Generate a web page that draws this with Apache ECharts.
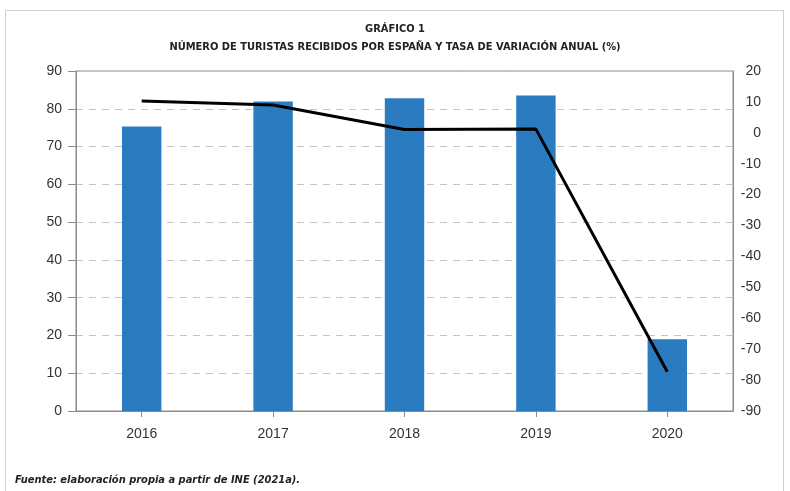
<!DOCTYPE html>
<html>
<head>
<meta charset="utf-8">
<script src="https://cdn.jsdelivr.net/npm/echarts@6/dist/echarts.min.js"></script>
<style>
  html, body { margin: 0; padding: 0; background: #fff; }
  #chart { width: 790px; height: 491px; }
</style>
</head>
<body>
<div id="chart"></div>
<script>
// Datos
const years = ['2016', '2017', '2018', '2019', '2020'];
const touristsMillions = [75.3, 81.9, 82.8, 83.5, 19.0];
const annualChangePct = [10.3, 9.0, 1.1, 1.2, -77.3];

const chart = echarts.init(document.getElementById('chart'), null, { renderer: 'canvas' });

const narrow = '"Liberation Sans Narrow", "DejaVu Sans Condensed", "Liberation Sans", sans-serif';
const labelFont = '"Liberation Sans", Arial, sans-serif';

const option = {
  backgroundColor: '#fff',
  animation: false,
  title: [
    {
      text: 'GRÁFICO 1',
      left: 'center',
      top: 19,
      textStyle: { fontFamily: narrow, fontSize: 11, fontWeight: 'bold', color: '#222' }
    },
    {
      text: 'NÚMERO DE TURISTAS RECIBIDOS POR ESPAÑA Y TASA DE VARIACIÓN ANUAL (%)',
      left: 'center',
      top: 37,
      textStyle: { fontFamily: narrow, fontSize: 11, fontWeight: 'bold', color: '#222' }
    },
    {
      text: 'Fuente: elaboración propia a partir de INE (2021a).',
      left: 10,
      top: 470,
      textStyle: { fontFamily: narrow, fontSize: 11, fontWeight: 'bold', fontStyle: 'italic', color: '#222' }
    }
  ],
  graphic: [
    {
      type: 'rect',
      shape: { x: 5.5, y: 10.5, width: 778, height: 490 },
      style: { fill: 'none', stroke: '#cfcfcf', lineWidth: 1 },
      silent: true
    }
  ],
  grid: {
    left: 76,
    right: 57,
    top: 71,
    bottom: 80,
    show: true,
    borderColor: '#8a8a8a',
    borderWidth: 1,
    containLabel: false
  },
  xAxis: {
    type: 'category',
    data: years,
    axisLine: { lineStyle: { color: '#8a8a8a', width: 1 } },
    axisTick: { show: true, alignWithLabel: true, length: 6, lineStyle: { color: '#8a8a8a' } },
    axisLabel: { margin: 16, fontFamily: labelFont, fontSize: 14, color: '#333' }
  },
  yAxis: [
    {
      type: 'value',
      min: 0,
      max: 90,
      interval: 10,
      position: 'left',
      axisLine: { show: true, lineStyle: { color: '#8a8a8a' } },
      axisTick: { show: true, length: 8, lineStyle: { color: '#8a8a8a' } },
      axisLabel: { margin: 14, fontFamily: labelFont, fontSize: 14, color: '#333' },
      splitLine: { show: true, lineStyle: { color: '#c4c4c4', type: [7, 6], width: 1 } }
    },
    {
      type: 'value',
      min: -90,
      max: 20,
      interval: 10,
      position: 'right',
      axisLine: { show: true, lineStyle: { color: '#8a8a8a' } },
      axisTick: { show: false },
      axisLabel: { margin: 28, align: 'right', fontFamily: labelFont, fontSize: 14, color: '#333' },
      splitLine: { show: false }
    }
  ],
  series: [
    {
      name: 'Turistas (millones)',
      type: 'bar',
      yAxisIndex: 0,
      data: touristsMillions,
      barWidth: '30%',
      itemStyle: { color: '#2b7bc1' }
    },
    {
      name: 'Tasa de variación anual (%)',
      type: 'line',
      yAxisIndex: 1,
      data: annualChangePct,
      symbol: 'none',
      lineStyle: { color: '#000', width: 3 },
      z: 5
    }
  ]
};

chart.setOption(option);
</script>
</body>
</html>
